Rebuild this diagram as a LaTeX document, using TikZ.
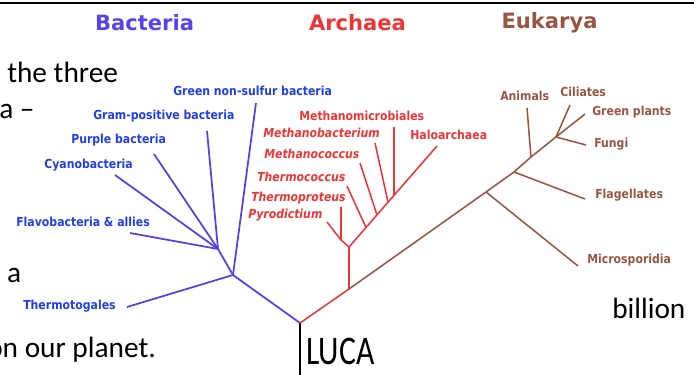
\documentclass[tikz,border=0pt]{standalone}
\usepackage{fontspec}
\setmainfont{Carlito}
\newfontfamily\dvs{DejaVu Sans}
\newcommand\cnd[1]{\scalebox{0.88}[1]{#1}}
\definecolor{btitle}{RGB}{88,66,240}
\definecolor{bline}{RGB}{88,60,240}
\definecolor{btext}{RGB}{32,62,235}
\definecolor{rcol}{RGB}{238,52,52}
\definecolor{ecol}{RGB}{152,86,66}
\tikzset{
  lbl/.style={font=\dvs\bfseries\fontsize{9.3}{10}\selectfont, inner sep=0pt, anchor=west},
  blbl/.style={lbl, text=btext},
  rlbl/.style={lbl, text=rcol},
  rilbl/.style={lbl, text=rcol, font=\dvs\bfseries\itshape\fontsize{9.3}{10}\selectfont},
  elbl/.style={lbl, text=ecol},
  ttl/.style={font=\dvs\bfseries\fontsize{15.8}{17}\selectfont, inner sep=0pt},
  slide/.style={font=\fontsize{22}{26}\selectfont, inner sep=0pt, anchor=base west},
  bbr/.style={draw=bline, line width=1.3pt},
  rbr/.style={draw=rcol, line width=1.15pt},
  ebr/.style={draw=ecol, line width=1.15pt},
}
\begin{document}
\begin{tikzpicture}[x=0.75pt,y=-0.75pt]
\useasboundingbox (0,0) rectangle (694,375);
\clip (0,0) rectangle (694,375);
% top rule
\coordinate (tl) at (0,3);
\coordinate (tr) at (694,3);
\draw[line width=2pt] (tl) -- (tr);

% slide text
\node[slide] (s1) at (7,82) {the three};
\node[slide] (s2) at (-1,118) {a –};
\node[slide] (s3) at (-10,282) {r a};
\node[slide] (s4) at (-13,357) {on our planet.};
\node[slide] (s5) at (612,318) {billion};

% titles
\node[ttl, text=btitle] (tB) at (144.5,23) {Bacteria};
\node[ttl, text=rcol] (tA) at (357.5,23) {Archaea};
\node[ttl, text=ecol] (tE) at (549.5,23) {Eukarya};

% LUCA
\coordinate (luca) at (300,323);
\coordinate (lucab) at (300,376);
\draw[line width=1.1pt] (luca) -- (lucab);
\node[inner sep=0pt, anchor=base west, font=\fontsize{30.5}{32}\selectfont] (lucat) at (306,364) {\scalebox{0.78}[1]{LUCA}};

% Bacteria
\coordinate (b1) at (233,275);
\coordinate (b2) at (218,249);
\coordinate (bTh) at (127,307);
\coordinate (bGn) at (256,103);
\coordinate (bFl) at (130,233);
\coordinate (bCy) at (115,175);
\coordinate (bPu) at (154,154);
\coordinate (bGp) at (207,131);
\draw[bbr] (luca) -- (b1) -- (b2);
\draw[bbr] (b1) -- (bTh);
\draw[bbr] (b1) -- (bGn);
\draw[bbr] (b2) -- (bFl);
\draw[bbr] (b2) -- (bCy);
\draw[bbr] (b2) -- (bPu);
\draw[bbr] (b2) -- (bGp);
\node[blbl] (lGn) at (173,91) {\cnd{Green non-sulfur bacteria}};
\node[blbl] (lGp) at (93,116) {\cnd{Gram-positive bacteria}};
\node[blbl] (lPu) at (71,140) {\cnd{Purple bacteria}};
\node[blbl] (lCy) at (44,165) {\cnd{Cyanobacteria}};
\node[blbl] (lFl) at (16,222) {\cnd{Flavobacteria \& allies}};
\node[blbl] (lTh) at (23,306) {\cnd{Thermotogales}};

% Archaea
\coordinate (a0) at (349,289);
\coordinate (a1) at (349,247);
\coordinate (a2) at (341,240);
\coordinate (aPy) at (327,222);
\coordinate (aTp) at (341,207);
\coordinate (aHa) at (437,146);
\coordinate (aTcB) at (366,227.5);
\coordinate (aTc) at (347,186);
\coordinate (aMcB) at (377,215);
\coordinate (aMc) at (360,163);
\coordinate (aMbB) at (388,202);
\coordinate (aMb) at (375,143);
\coordinate (aMmB) at (394,195.5);
\coordinate (aMm) at (394,127);
\draw[rbr] (luca) -- (a0) -- (a1) -- (a2) -- (aPy);
\draw[rbr] (a2) -- (aTp);
\draw[rbr] (a1) -- (aHa);
\draw[rbr] (aTcB) -- (aTc);
\draw[rbr] (aMcB) -- (aMc);
\draw[rbr] (aMbB) -- (aMb);
\draw[rbr] (aMmB) -- (aMm);
\node[rlbl] (lMm) at (299,116) {\cnd{Methanomicrobiales}};
\node[rilbl] (lMb) at (263,133) {\cnd{Methanobacterium}};
\node[rlbl] (lHa) at (410,135) {\cnd{Haloarchaea}};
\node[rilbl] (lMc) at (264,154) {\cnd{Methanococcus}};
\node[rilbl] (lTc) at (257,177) {\cnd{Thermococcus}};
\node[rilbl] (lTp) at (251,198) {\cnd{Thermoproteus}};
\node[rilbl] (lPy) at (248,215) {\cnd{Pyrodictium}};

% Eukarya
\coordinate (e1) at (486,192);
\coordinate (e2) at (514,172);
\coordinate (e3) at (531,157);
\coordinate (e4) at (556,137);
\coordinate (eMi) at (578,266);
\coordinate (eFl) at (585,199);
\coordinate (eAn) at (527,108);
\coordinate (eFu) at (586,145);
\coordinate (eGp) at (585,114);
\coordinate (eCi) at (570,105);
\draw[ebr] (a0) -- (e1) -- (e2) -- (e3) -- (e4);
\draw[ebr] (e1) -- (eMi);
\draw[ebr] (e2) -- (eFl);
\draw[ebr] (e3) -- (eAn);
\draw[ebr] (e4) -- (eFu);
\draw[ebr] (e4) -- (eGp);
\draw[ebr] (e4) -- (eCi);
\node[elbl] (lAn) at (500,96) {\cnd{Animals}};
\node[elbl] (lCi) at (560,92) {\cnd{Ciliates}};
\node[elbl] (lGpl) at (592,112) {\cnd{Green plants}};
\node[elbl] (lFu) at (594,144) {\cnd{Fungi}};
\node[elbl] (lFla) at (595,195) {\cnd{Flagellates}};
\node[elbl] (lMi) at (587,260) {\cnd{Microsporidia}};
\end{tikzpicture}
\end{document}
